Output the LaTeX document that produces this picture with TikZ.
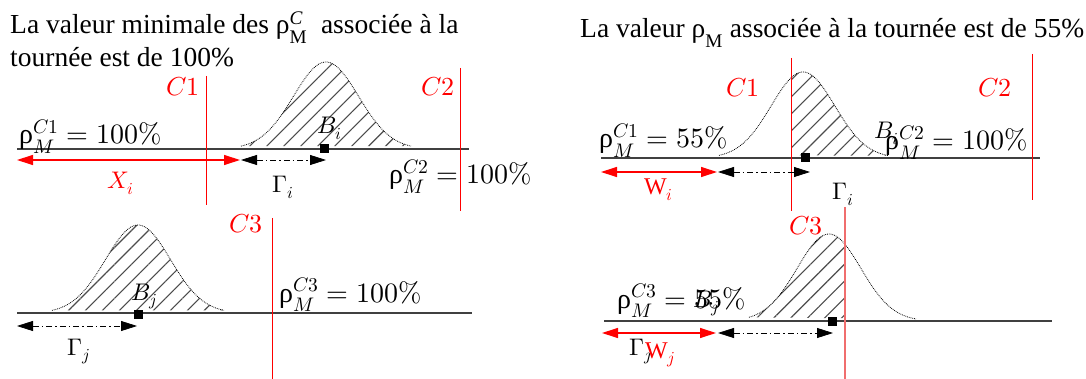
\documentclass[tikz,border=0pt]{standalone}
\usepackage{amsmath}
\usepackage{fontspec}
\usepackage{unicode-math}
\setmainfont{Liberation Serif}
\setmathfont{Latin Modern Math}
\usepackage{tikz}
\usetikzlibrary{arrows.meta,patterns.meta}
\definecolor{cutred}{RGB}{255,0,0}
\definecolor{cutpale}{RGB}{240,110,110}
\newcommand{\rh}{\text{ρ}}
\tikzset{
  ax/.style   ={draw=black!75,line width=1.2pt},
  cut/.style  ={cutred,line width=0.9pt},
  bell/.style ={densely dotted,line width=0.8pt},
  hatch/.style={pattern={Lines[angle=45,distance=12pt,line width=1.1pt]},pattern color=black!70},
  rar/.style  ={cutred,line width=1.2pt,{Triangle[length=16pt,width=10pt]}-{Triangle[length=16pt,width=10pt]}},
  dar/.style  ={line width=0.8pt,dash pattern=on 6pt off 3pt on 1.5pt off 3pt,
                {Triangle[length=16pt,width=10pt]}-{Triangle[length=16pt,width=10pt]}},
  sq/.style   ={fill=black,minimum size=9pt,inner sep=0pt},
  lab/.style  ={font=\fontsize{24}{28}\selectfont,inner sep=0pt,anchor=base west},
  rlab/.style ={font=\fontsize{28}{32}\selectfont,inner sep=0pt,anchor=base west},
  cl/.style   ={cutred,font=\fontsize{26}{28}\selectfont,inner sep=0pt,anchor=base east},
  ttl/.style  ={font=\fontsize{27.5}{33}\selectfont,inner sep=0pt,anchor=base west},
}

\begin{document}
\begin{tikzpicture}[x=1pt,y=-1pt]
  \useasboundingbox (0,0) rectangle (1086,379);

  % left, first tour
  \node[ttl] (t1) at (10,34) {La valeur minimale des $\rh^{\text{\textit{C}}}_{\text{M}}$\ \ associée à la};
  \node[ttl] (t1b) at (10,67) {tournée est de 100\%};
  \fill[hatch] plot[domain=241:411,samples=60] (\x,{149-87*exp(-((\x-326)/46)^2)}) -- cycle;
  \draw[bell] plot[domain=241:411,samples=60] (\x,{149-87*exp(-((\x-326)/46)^2)});
  \coordinate (a1) at (17,149);   \coordinate (a2) at (469,149);
  \draw[ax] (a1) -- (a2);
  \coordinate (c1t) at (206,76);  \coordinate (c1b) at (206,205);
  \coordinate (c2t) at (460,68);  \coordinate (c2b) at (460,211);
  \draw[cut] (c1t) -- (c1b);
  \draw[cut] (c2t) -- (c2b);
  \node[cl] (lc1) at (200,96) {$C1$};
  \node[cl] (lc2) at (455,96) {$C2$};
  \node[rlab] (r1) at (19,144) {$\rh^{C1}_{M} = 100\%$};
  \node[rlab] (r2) at (389,184) {$\rh^{C2}_{M} = 100\%$};
  \node[sq] (bi) at (324,149) {};
  \node[lab] (lbi) at (317,134) {$B_i$};
  \coordinate (x1) at (17,160);   \coordinate (x2) at (240,160);
  \coordinate (g1) at (241,160);  \coordinate (g2) at (326,160);
  \draw[rar] (x1) -- (x2);
  \draw[dar] (g1) -- (g2);
  \node[lab,cutred] (lx) at (107,189) {$X_i$};
  \node[lab] (lg) at (272,193) {$\Gamma_i$};

  % left, second tour
  \fill[hatch] plot[domain=52:224,samples=60] (\x,{313-88*exp(-((\x-138)/46)^2)}) -- cycle;
  \draw[bell] plot[domain=52:224,samples=60] (\x,{313-88*exp(-((\x-138)/46)^2)});
  \coordinate (b1) at (17,313);   \coordinate (b2) at (472,313);
  \draw[ax] (b1) -- (b2);
  \coordinate (c3t) at (272,218); \coordinate (c3b) at (272,379);
  \draw[cut] (c3t) -- (c3b);
  \node[cl] (lc3) at (263,233) {$C3$};
  \node[rlab] (r3) at (279,302) {$\rh^{C3}_{M} = 100\%$};
  \node[sq] (bj) at (138,314) {};
  \node[lab] (lbj) at (131,300) {$B_j$};
  \coordinate (h1) at (17,326);   \coordinate (h2) at (137,326);
  \draw[dar] (h1) -- (h2);
  \node[lab] (lh) at (67,355) {$\Gamma_j$};

  % right, first tour
  \node[ttl] (t2) at (580,38) {La valeur $\rh_{\text{M}}$ associée à la tournée est de 55\%};
  \begin{scope}
    \clip (791,0) rectangle (1086,379);
    \fill[hatch] plot[domain=719:888,samples=60] (\x,{158-86*exp(-((\x-803)/45)^2)}) -- cycle;
  \end{scope}
  \draw[bell] plot[domain=719:888,samples=60] (\x,{158-86*exp(-((\x-803)/45)^2)});
  \coordinate (d1) at (601,158);  \coordinate (d2) at (1040,158);
  \draw[ax] (d1) -- (d2);
  \coordinate (e1t) at (791,58);  \coordinate (e1b) at (791,211);
  \coordinate (e2t) at (1032,54); \coordinate (e2b) at (1032,200);
  \draw[cut] (e1t) -- (e1b);
  \draw[cut] (e2t) -- (e2b);
  \node[cl] (le1) at (760,97) {$C1$};
  \node[cl] (le2) at (1012,97) {$C2$};
  \node[rlab] (s1) at (599,148) {$\rh^{C1}_{M} = 55\%$};
  \node[rlab] (s2) at (885,150) {$\rh^{C2}_{M} = 100\%$};
  \node[sq] (ci) at (805,158) {};
  \node[lab] (lci) at (874,139) {$B_i$};
  \coordinate (w1) at (601,172);  \coordinate (w2) at (717,172);
  \coordinate (k1) at (718,172);  \coordinate (k2) at (810,172);
  \draw[rar] (w1) -- (w2);
  \draw[dar] (k1) -- (k2);
  \node[lab,cutred] (lw) at (644,195) {$\mathrm{W}_i$};
  \node[lab] (lk) at (832,200) {$\Gamma_i$};

  % right, second tour
  \begin{scope}
    \clip (0,0) rectangle (845,379);
    \fill[hatch] plot[domain=749:916,samples=60] (\x,{321-87*exp(-((\x-829)/45)^2)}) -- cycle;
  \end{scope}
  \draw[bell] plot[domain=749:916,samples=60] (\x,{321-87*exp(-((\x-829)/45)^2)});
  \coordinate (f1) at (604,321);  \coordinate (f2) at (1052,321);
  \draw[ax] (f1) -- (f2);
  \coordinate (e3t) at (845,207); \coordinate (e3b) at (845,379);
  \draw[cutpale,line width=1.6pt] (e3t) -- (e3b);
  \node[cl] (le3) at (823,235) {$C3$};
  \node[rlab] (s3) at (617,308) {$\rh^{C3}_{M} = 55\%$};
  \node[sq] (cj) at (832,321) {};
  \node[lab] (lcj) at (693,307) {$B_j$};
  \coordinate (v1) at (602,333);  \coordinate (v2) at (716,333);
  \coordinate (m1) at (718,333);  \coordinate (m2) at (833,333);
  \draw[rar] (v1) -- (v2);
  \draw[dar] (m1) -- (m2);
  \node[lab] (lm) at (629,355) {$\Gamma_j$};
  \node[lab,cutred] (lv) at (645,358) {$\mathrm{W}_j$};
\end{tikzpicture}
\end{document}
